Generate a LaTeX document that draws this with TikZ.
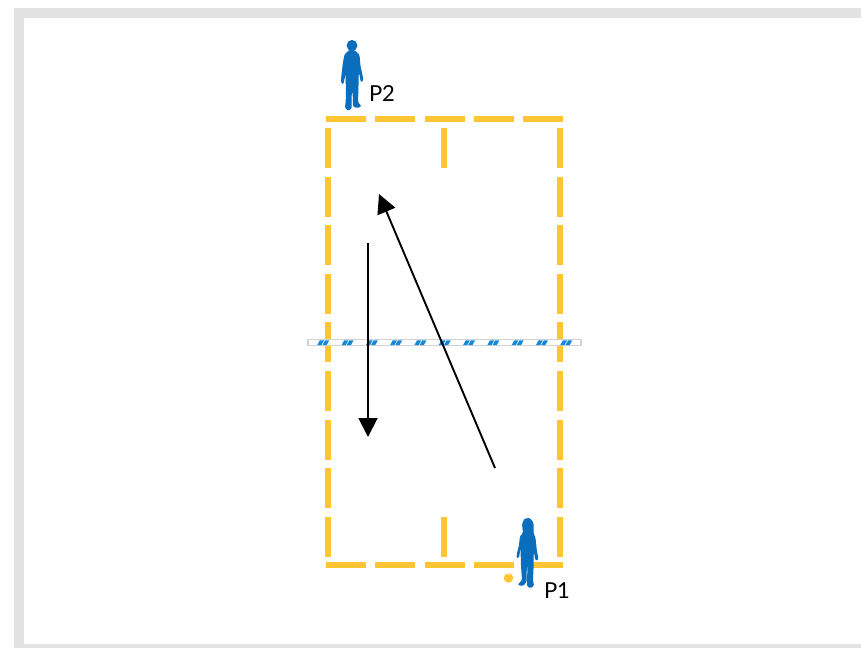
\documentclass[tikz,border=0pt]{standalone}
\usepackage{fontspec}
\setmainfont{Lato}
\usetikzlibrary{arrows.meta, positioning}
\definecolor{courtyellow}{HTML}{FFC533}
\definecolor{playerblue}{HTML}{0A6EBD}
\definecolor{netblue}{HTML}{1288D8}
\definecolor{framegray}{HTML}{E2E2E2}

\begin{document}
\begin{tikzpicture}[
    x=1pt, y=-1pt,
    courtline/.style={courtyellow, line width=5.8pt},
    player/.style={fill=playerblue, draw=none, rounded corners=1.2pt},
    playerlabel/.style={font=\fontsize{22}{24}\selectfont, text=black, inner sep=0pt},
    shotarrow/.style={-{Triangle[length=19pt, width=19pt]}, line width=1.9pt, black}
  ]
  \useasboundingbox (0, 0) rectangle (861, 648);

  % Frame
  \fill[framegray] (14, 8) rectangle (861, 648);
  \fill[white] (24, 18) rectangle (861, 644);

  % Court
  \draw[courtline, dash pattern=on 40pt off 9.25pt] (326, 118.8) -- (563, 118.8);
  \draw[courtline, dash pattern=on 40pt off 9.25pt] (326, 564.8) -- (563, 564.8);
  \draw[courtline, dash pattern=on 40pt off 8.6pt] (328, 128) -- (328, 557);
  \draw[courtline, dash pattern=on 40pt off 8.6pt] (560, 128) -- (560, 557);
  \draw[courtline] (444, 128) -- (444, 168);
  \draw[courtline] (444, 517) -- (444, 557);

  % Net
  \draw[gray!35, fill=white, line width=1.2pt] (308, 339.8) rectangle (581, 345.4);
  \foreach \netx in {323, 347.3, 371.6, 395.9, 420.2, 444.5, 468.8, 493.1, 517.4, 541.7, 566} {
    \fill[netblue] (\netx-5.8, 345.2) -- (\netx-3.2, 340.4) -- (\netx+1, 340.4) -- (\netx-1.6, 345.2) -- cycle;
    \fill[netblue] (\netx-0.6, 345.2) -- (\netx+2, 340.4) -- (\netx+6.2, 340.4) -- (\netx+3.6, 345.2) -- cycle;
  }

  % P2
  \fill[playerblue] (352, 45.5) ellipse (5.4 and 5.6);
  \fill[player] (349, 50) -- (344.5, 54.5) -- (343, 62) -- (341, 79) -- (341.5, 84) -- (343.5, 84)
    -- (345.5, 74) -- (345.8, 86) -- (345.8, 100) -- (345, 108) -- (348, 110.5) -- (351.5, 109)
    -- (351.8, 92) -- (352.6, 92) -- (353, 104) -- (353, 106.5) -- (357, 108) -- (361.5, 106.5) -- (358, 102)
    -- (358.5, 86) -- (358.8, 72) -- (360, 78) -- (361, 82.5) -- (363.5, 80) -- (360.5, 66)
    -- (359.5, 55) -- (354.5, 50) -- cycle;
  \node[playerlabel] (ptwo) at (382, 94) {P2};

  % P1
  \fill[player] (523, 533) -- (522, 524) -- (524.5, 518.5) -- (530, 518) -- (533.5, 523) -- (533.5, 533)
    -- (535.5, 538) -- (537, 552) -- (538.5, 558) -- (537, 561) -- (535, 559.5) -- (533.8, 550)
    -- (533.6, 566) -- (533, 580) -- (534, 586) -- (530, 588.2) -- (527, 586) -- (527.4, 566)
    -- (526.8, 566) -- (526.6, 582) -- (523, 586) -- (517.6, 585) -- (522, 580) -- (521, 566)
    -- (520.5, 548) -- (519, 558) -- (516.5, 558) -- (517, 553) -- (519, 545) -- (520, 536) -- cycle;
  \node[playerlabel] (pone) at (557, 591) {P1};

  % Ball
  \node[circle, fill=courtyellow, minimum size=9.5pt, inner sep=0pt] (ball) at (508.5, 578) {};
  \draw[white!85!courtyellow, line width=0.9pt] (508.6, 575.2) arc (170:320:2.8);

  % Arrows
  \coordinate (servestart) at (495, 468);
  \coordinate (serveend) at (379, 194);
  \coordinate (returnstart) at (368, 243);
  \coordinate (returnend) at (368, 437);
  \draw[shotarrow] (servestart) -- (serveend);
  \draw[shotarrow] (returnstart) -- (returnend);
\end{tikzpicture}
\end{document}
